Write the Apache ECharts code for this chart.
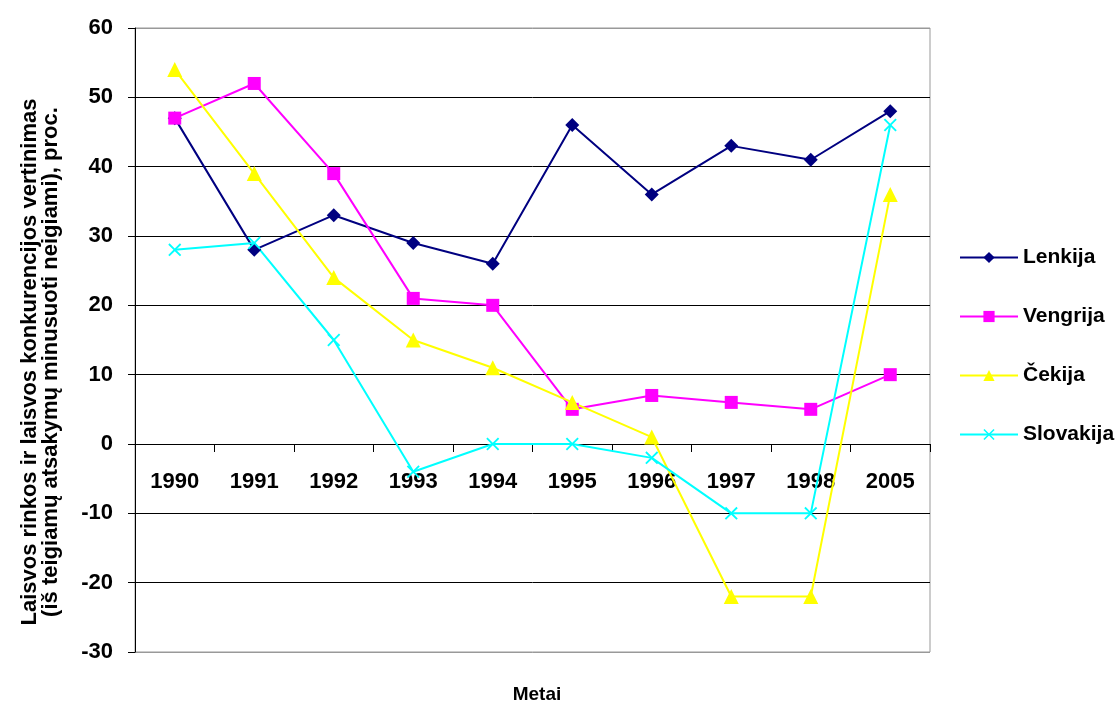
<!DOCTYPE html>
<html>
<head>
<meta charset="utf-8">
<script src="https://cdn.jsdelivr.net/npm/echarts@6/dist/echarts.min.js"></script>
<style>
  html, body { margin: 0; padding: 0; background: #fff; }
  #main { width: 1119px; height: 701px; }
</style>
</head>
<body>
<div id="main"></div>
<script>
var years = ['1990', '1991', '1992', '1993', '1994', '1995', '1996', '1997', '1998', '2005'];
var lenkija = [47, 28, 33, 29, 26, 46, 36, 43, 41, 48];
var vengrija = [47, 52, 39, 21, 20, 5, 7, 6, 5, 10];
var cekija = [54, 39, 24, 15, 11, 6, 1, -22, -22, 36];
var slovakija = [28, 29, 15, -4, 0, 0, -2, -10, -10, 46];

var font = '"Liberation Sans", Arial, sans-serif';
var crossPath = 'path://M2,0L10,8L18,0L20,2L12,10L20,18L18,20L10,12L2,20L0,18L8,10L0,2Z';

function mkSeries(name, data, color, symbol, size)
{
    return {
        name: name,
        type: 'line',
        data: data,
        symbol: symbol,
        symbolSize: size,
        showAllSymbol: true,
        lineStyle: {color: color, width: 2},
        itemStyle: {color: color},
        emphasis: {disabled: true},
        animation: false
    };
}

var myChart = echarts.init(document.getElementById('main'));
option = {
    backgroundColor: '#fff',
    animation: false,
    title: {
        text: 'Metai',
        left: 532,
        top: 680,
        textAlign: 'center',
        textStyle: {fontFamily: font, fontWeight: 'bold', fontSize: 19, color: '#000'}
    },
    grid: {
        left: 135,
        right: 189,
        top: 28,
        bottom: 49,
        outerBoundsMode: 'none',
        containLabel: false,
        show: true,
        borderColor: '#999',
        borderWidth: 1
    },
    legend: {
        orient: 'vertical',
        left: 954,
        top: 242,
        itemWidth: 58,
        itemHeight: 14,
        itemGap: 38,
        data: ['Lenkija', 'Vengrija', 'Čekija', 'Slovakija'],
        textStyle: {fontFamily: font, fontWeight: 'bold', fontSize: 21, color: '#000'}
    },
    xAxis: {
        type: 'category',
        data: years,
        axisLine: {onZero: true, lineStyle: {color: '#000', width: 1}},
        axisTick: {show: true, length: 8, lineStyle: {color: '#000'}},
        axisLabel: {
            margin: -181,
            fontFamily: font,
            fontWeight: 'bold',
            fontSize: 22,
            color: '#000'
        },
        splitLine: {show: false}
    },
    yAxis: {
        type: 'value',
        min: -30,
        max: 60,
        interval: 10,
        name: 'Laisvos rinkos ir laisvos konkurencijos vertinimas\n(iš teigiamų atsakymų minusuoti neigiami), proc.',
        nameLocation: 'middle',
        nameGap: 74,
        nameRotate: 90,
        nameTextStyle: {
            fontFamily: font,
            fontWeight: 'bold',
            fontSize: 22,
            lineHeight: 21,
            color: '#000',
            padding: [0, 44, 0, 0]
        },
        axisLine: {show: true, lineStyle: {color: '#000', width: 1}},
        axisTick: {show: true, length: 7, lineStyle: {color: '#000'}},
        axisLabel: {
            margin: 22,
            fontFamily: font,
            fontWeight: 'bold',
            fontSize: 22,
            color: '#000'
        },
        splitLine: {
            show: true,
            lineStyle: {
                color: ['#999', '#000', '#000', '#000', '#000', '#000', '#000', '#000', '#000', '#999'],
                width: 1
            }
        }
    },
    series: [
        mkSeries('Lenkija', lenkija, '#000080', 'diamond', 14),
        mkSeries('Vengrija', vengrija, '#FF00FF', 'rect', 13),
        mkSeries('Čekija', cekija, '#FFFF00', 'triangle', 15),
        mkSeries('Slovakija', slovakija, '#00FFFF', crossPath, 13)
    ]
};
myChart.setOption(option);
</script>
</body>
</html>
